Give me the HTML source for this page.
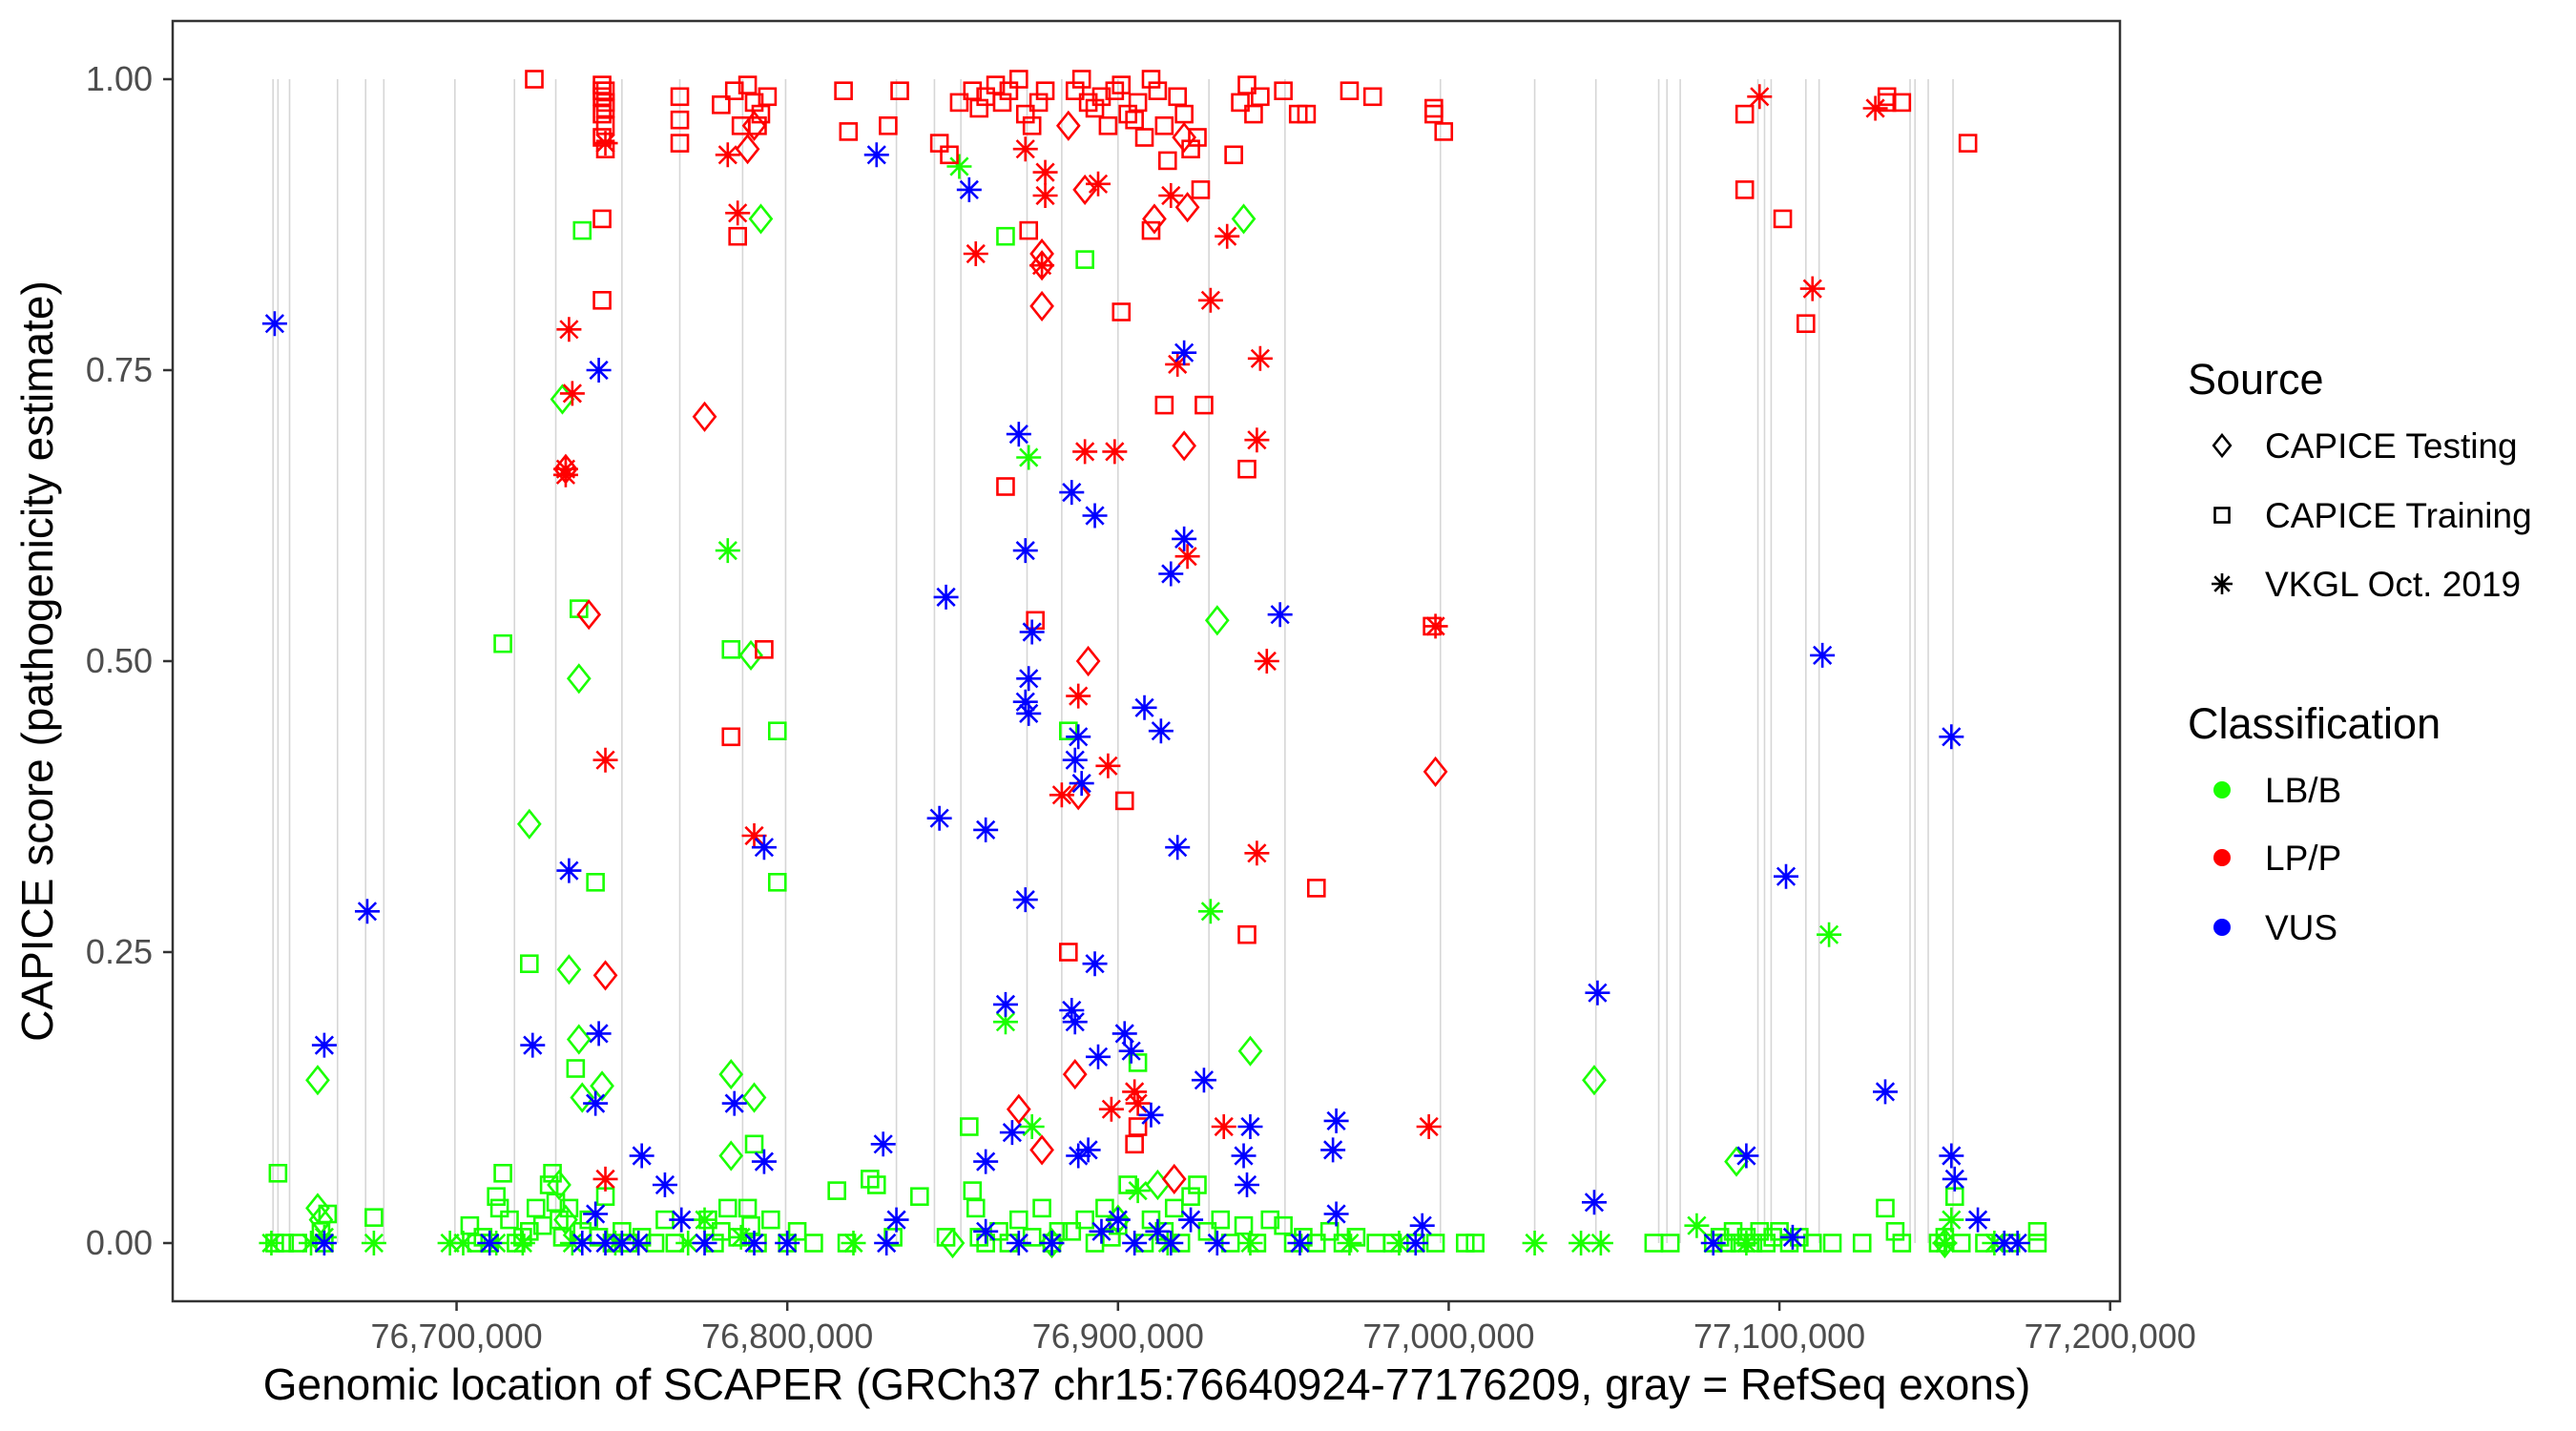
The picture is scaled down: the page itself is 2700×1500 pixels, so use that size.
<!DOCTYPE html>
<html><head><meta charset="utf-8"><title>SCAPER CAPICE scores</title>
<style>
html,body{margin:0;padding:0;background:#fff;}
svg{display:block;font-family:"Liberation Sans",Arial,sans-serif;}
</style></head>
<body>
<svg id="chart" width="2700" height="1500" viewBox="0 0 2700 1500" xmlns="http://www.w3.org/2000/svg">
<rect x="0" y="0" width="2700" height="1500" fill="#fff"/>
<g id="exons"></g>
<g id="points"></g>
<rect x="181" y="22" width="2041" height="1342" fill="none" stroke="#333" stroke-width="2.5"/>
<g id="xaxis"></g>
<g id="yaxis"></g>
<text x="1202" y="1467" font-size="46" text-anchor="middle" fill="#000">Genomic location of SCAPER (GRCh37 chr15:76640924-77176209, gray = RefSeq exons)</text>
<text transform="translate(55,693) rotate(-90)" font-size="46" text-anchor="middle" fill="#000">CAPICE score (pathogenicity estimate)</text>
<g id="legend"></g>
</svg>
<script>
// ---- data (positions in kb, scores 0..1) ----
const exonPositions = [76644.5,76646,76649.5,76664,76672.5,76678,76699.5,76717.5,76730,76750,76767.5,76786.5,76799.5,76833,76844.5,76852.5,76872.5,76883,76900,76927.5,76950.5,76997.5,77026,77044.5,77063.5,77066,77070,77093.5,77095.5,77097.5,77108,77112,77139.5,77141,77145,77152.5];
const xTickValues = [76700,76800,76900,77000,77100,77200];
const xTickLabels = ["76,700,000","76,800,000","76,900,000","77,000,000","77,100,000","77,200,000"];
const yTickValues = [0,0.25,0.5,0.75,1];
const yTickLabels = ["0.00","0.25","0.50","0.75","1.00"];

const greenSquarePos = [76646,76645,76648,76652,76659,76661,76660,76675,76704,76706,76708,76710,76712,76713,76714,76714,76716,76718,76720,76722,76722,76724,76726,76728,76729,76730,76731,76732,76734,76736,76737,76738,76738,76740,76742,76743,76745,76747,76750,76752,76756,76760,76763,76766,76776,76778,76780,76782,76783,76785,76788,76789,76790,76791,76795,76797,76797,76800,76803,76808,76815,76818,76825,76827,76832,76840,76848,76855,76856,76857,76858,76860,76864,76866,76867,76870,76874,76877,76880,76882,76885,76886,76890,76890,76893,76896,76898,76900,76903,76906,76908,76910,76914,76917,76919,76922,76924,76927,76931,76934,76938,76942,76946,76950,76953,76956,76960,76964,76968,76972,76978,76983,76990,76996,77005,77008,77062,77067,77080,77082,77084,77086,77088,77090,77092,77094,77096,77098,77100,77103,77106,77110,77116,77125,77132,77135,77137,77148,77150,77153,77155,77162,77170,77178,77178];
const greenSquareScore = [0.06,0,0,0,0.01,0.025,0,0.022,0.015,0,0.005,0,0.04,0.03,0.06,0.515,0.02,0,0.005,0.24,0.01,0.03,0.015,0.05,0.06,0.035,0.02,0.005,0.03,0.15,0.545,0.87,0.01,0.02,0.31,0.005,0.04,0,0.01,0,0.005,0,0.02,0,0.02,0,0.01,0.03,0.51,0.005,0.03,0.015,0.085,0,0.02,0.44,0.31,0,0.01,0,0.045,0,0.055,0.05,0.005,0.04,0.005,0.1,0.045,0.03,0.005,0,0.01,0.865,0,0.02,0.005,0.03,0,0.01,0.44,0.01,0.845,0.02,0,0.03,0.005,0.015,0.05,0.155,0,0.02,0.01,0.03,0,0.04,0.05,0.01,0.02,0,0.015,0,0.02,0.015,0,0.005,0,0.01,0,0.005,0,0,0,0,0,0,0,0,0,0.005,0,0.01,0,0.005,0,0.01,0,0.005,0.01,0,0.005,0,0,0,0.03,0.01,0,0,0.005,0.04,0,0,0,0.01,0];
const greenStarPos = [76644,76656,76660,76675,76698,76702,76712,76720,76735,76748,76770,76775,76782,76786,76820,76852,76866,76873,76874,76880,76906,76915,76928,76940,76970,76985,77026,77040,77046,77075,77090,77115,77150,77152,77165];
const greenStarScore = [0,0,0.005,0,0,0,0,0,0,0,0,0.02,0.595,0.005,0,0.925,0.19,0.675,0.1,0,0.045,0,0.285,0,0,0,0,0,0,0.015,0,0.265,0,0.02,0];
const greenDiamondPos = [76658,76658,76659,76722,76732,76737,76734,76737,76738,76744,76731,76733,76792,76783,76789,76790,76783,76938,76930,76940,77044,77087,76912,76900,76850,76880,77150];
const greenDiamondScore = [0.14,0.03,0.02,0.36,0.725,0.485,0.235,0.175,0.125,0.135,0.05,0.02,0.88,0.145,0.505,0.125,0.075,0.88,0.535,0.165,0.14,0.07,0.05,0.02,0,0,0];

const redSquarePos = [76723.5,76744,76744,76744,76745,76745,76744,76745,76744,76745,76744,76744,76745,76767.5,76767.5,76767.5,76780,76784,76786,76788,76790,76792,76794,76791,76785,76783,76793,76817,76818.5,76830.5,76834,76846,76849,76852,76856,76858,76860,76863,76865,76867,76870,76872,76874,76876,76878,76866,76875,76873,76887,76889,76891,76893,76895,76897,76899,76901,76903,76905,76901,76902,76885,76906,76908,76910,76912,76914,76915,76918,76920,76922,76924,76910,76914,76926,76925,76935,76937,76939,76941,76943,76939,76939,76954.5,76950,76957,76960,76970,76977,76995.5,76995.5,76998.5,76995,77089.5,77089.5,77101,77108,77132.5,77132.5,77137,77157,76906,76905];
const redSquareScore = [1.0,0.995,0.99,0.985,0.98,0.975,0.97,0.96,0.95,0.94,0.88,0.81,0.99,0.985,0.965,0.945,0.978,0.99,0.96,0.995,0.98,0.97,0.985,0.96,0.865,0.435,0.51,0.99,0.955,0.96,0.99,0.945,0.935,0.98,0.99,0.975,0.985,0.995,0.98,0.99,1.0,0.97,0.96,0.98,0.99,0.65,0.535,0.87,0.99,1.0,0.98,0.975,0.985,0.96,0.99,0.995,0.97,0.965,0.8,0.38,0.25,0.98,0.95,1.0,0.99,0.96,0.93,0.985,0.97,0.94,0.95,0.87,0.72,0.72,0.905,0.935,0.98,0.995,0.97,0.985,0.665,0.265,0.97,0.99,0.97,0.305,0.99,0.985,0.975,0.97,0.955,0.53,0.97,0.905,0.88,0.79,0.985,0.98,0.98,0.945,0.1,0.085];
const redStarPos = [76734,76735,76733,76733,76745,76745,76745,76782,76785,76790,76857,76872,76878,76878,76877,76883,76890,76899,76894,76897,76888,76916,76918,76921,76928,76933,76943,76942,76942,76945,76932,76905,76906,76898,76996,76994,77094,77110,77129];
const redStarScore = [0.785,0.73,0.665,0.66,0.945,0.415,0.055,0.935,0.885,0.35,0.85,0.94,0.92,0.9,0.84,0.385,0.68,0.68,0.91,0.41,0.47,0.9,0.755,0.59,0.81,0.865,0.76,0.69,0.335,0.5,0.1,0.13,0.12,0.115,0.53,0.1,0.985,0.82,0.975];
const redDiamondPos = [76733,76740,76745,76775,76788,76790,76877,76877,76877,76885,76890,76891,76888,76887,76870,76911,76921,76920,76920,76917,76996,76877];
const redDiamondScore = [0.665,0.54,0.23,0.71,0.94,0.96,0.85,0.84,0.805,0.96,0.905,0.5,0.385,0.145,0.115,0.88,0.89,0.95,0.685,0.055,0.405,0.08];

const blueStarPos = [76645,76660,76673,76723,76734,76743,76743,76742,76742,76756,76763,76768,76784,76793,76793,76827,76829,76833,76846,76848,76855,76860,76860,76866,76870,76872,76874,76873,76872,76873,76872,76868,76886,76888,76887,76889,76886,76887,76888,76893,76893,76894,76891,76908,76913,76916,76920,76920,76918,76902,76904,76910,76926,76940,76938,76939,76949,76966,76965,76966,76992,77045,77044,77090,77102,77113,77132,77152,77152,77153,77160,76660,76710,76738,76745,76750,76755,76775,76790,76800,76830,76860,76870,76880,76895,76900,76905,76912,76916,76922,76930,76955,76990,77080,77104,77168,77172];
const blueStarScore = [0.79,0.17,0.285,0.17,0.32,0.75,0.18,0.12,0.025,0.075,0.05,0.02,0.12,0.34,0.07,0.935,0.085,0.02,0.365,0.555,0.905,0.355,0.07,0.205,0.695,0.595,0.525,0.485,0.465,0.455,0.295,0.095,0.645,0.435,0.415,0.395,0.2,0.19,0.075,0.625,0.24,0.16,0.08,0.46,0.44,0.575,0.605,0.765,0.34,0.18,0.165,0.11,0.14,0.1,0.075,0.05,0.54,0.105,0.08,0.025,0.015,0.215,0.035,0.075,0.315,0.505,0.13,0.435,0.075,0.055,0.02,0,0,0,0,0,0,0,0,0,0,0.01,0,0,0.01,0.02,0,0.01,0,0.02,0,0,0,0,0.005,0,0];

// ---- scales ----
const X0 = 181, X1 = 2222, Y0 = 1364, Y1 = 22;
const xMin = 76614.16, xMax = 77202.97, yMin = -0.05, yMax = 1.05;
function xScale(v){ return X0 + (v - xMin) / (xMax - xMin) * (X1 - X0); }
function yScale(v){ return Y0 - (v - yMin) / (yMax - yMin) * (Y0 - Y1); }
const NS = "http://www.w3.org/2000/svg";
function mk(tag, attrs, parent){
  const e = document.createElementNS(NS, tag);
  for (const k in attrs) e.setAttribute(k, attrs[k]);
  parent.appendChild(e); return e;
}
const GREEN = "#1aff00", RED = "#ff0000", BLUE = "#0000ff";

const exG = document.getElementById("exons");
exonPositions.forEach(p => {
  const l = mk("line", {x1: xScale(p), x2: xScale(p), y1: yScale(0), y2: yScale(1), stroke: "#d6d6d6", "stroke-width": 1.6}, exG);
  
  
});

function drawSquare(g, cx, cy, col, s){
  return mk("rect", {x: cx - s/2, y: cy - s/2, width: s, height: s, fill: "none", stroke: col, "stroke-width": 2.6}, g);
}
function drawDiamond(g, cx, cy, col, s){
  return mk("path", {d: `M${cx} ${cy - s}L${cx + s*0.8} ${cy}L${cx} ${cy + s}L${cx - s*0.8} ${cy}Z`, fill: "none", stroke: col, "stroke-width": 2.6}, g);
}
function drawStar(g, cx, cy, col, r){
  const d = r * 0.707;
  return mk("path", {d: `M${cx} ${cy - r}V${cy + r}M${cx - r} ${cy}H${cx + r}M${cx - d} ${cy - d}L${cx + d} ${cy + d}M${cx - d} ${cy + d}L${cx + d} ${cy - d}`, fill: "none", stroke: col, "stroke-width": 2.6}, g);
}
const ptG = document.getElementById("points");
function series(pos, score, kind, col, name){
  const g = mk("g", {}, ptG);
  
  
  pos.forEach((p, i) => {
    const cx = xScale(p), cy = yScale(score[i]);
    let e;
    if (kind === "square") e = drawSquare(g, cx, cy, col, 17);
    else if (kind === "diamond") e = drawDiamond(g, cx, cy, col, 14);
    else e = drawStar(g, cx, cy, col, 13);
    
    
  });
}
series(greenSquarePos, greenSquareScore, "square", GREEN, "series-lbb-training");
series(greenStarPos, greenStarScore, "star", GREEN, "series-lbb-vkgl");
series(greenDiamondPos, greenDiamondScore, "diamond", GREEN, "series-lbb-testing");
series(redSquarePos, redSquareScore, "square", RED, "series-lpp-training");
series(redStarPos, redStarScore, "star", RED, "series-lpp-vkgl");
series(redDiamondPos, redDiamondScore, "diamond", RED, "series-lpp-testing");
series(blueStarPos, blueStarScore, "star", BLUE, "series-vus-vkgl");

const xg = document.getElementById("xaxis");
xTickValues.forEach((v, i) => {
  const x = xScale(v);
  const t = mk("line", {x1: x, x2: x, y1: Y0, y2: Y0 + 10, stroke: "#333", "stroke-width": 2.5}, xg);
  
  
  const lb = mk("text", {x: x, y: 1413, "font-size": 36, "text-anchor": "middle", fill: "#4d4d4d"}, xg);
  lb.textContent = xTickLabels[i];
  
  
});
const yg = document.getElementById("yaxis");
yTickValues.forEach((v, i) => {
  const y = yScale(v);
  const t = mk("line", {x1: X0 - 10, x2: X0, y1: y, y2: y, stroke: "#333", "stroke-width": 2.5}, yg);
  
  
  const lb = mk("text", {x: 160, y: y + 12, "font-size": 36, "text-anchor": "end", fill: "#4d4d4d"}, yg);
  lb.textContent = yTickLabels[i];
  
  
});

const lg = document.getElementById("legend");
function ltext(x, y, s, size, name){
  const t = mk("text", {x: x, y: y, "font-size": size, fill: "#000"}, lg);
  t.textContent = s;
  
  
}
ltext(2293, 413, "Source", 45, "legend-title-source");
const srcLabels = ["CAPICE Testing", "CAPICE Training", "VKGL Oct. 2019"];
const srcY = [467, 540, 612];
srcLabels.forEach((s, i) => {
  let e;
  if (i === 0) e = drawDiamond(lg, 2329, srcY[i], "#000", 11);
  else if (i === 1) e = drawSquare(lg, 2329, srcY[i], "#000", 15);
  else e = drawStar(lg, 2329, srcY[i], "#000", 11);
  
  
  ltext(2374, srcY[i] + 13, s, 37, "legend-entry");
});
ltext(2293, 774, "Classification", 45, "legend-title-classification");
const clsLabels = ["LB/B", "LP/P", "VUS"];
const clsColors = [GREEN, RED, BLUE];
const clsY = [828, 899, 972];
clsLabels.forEach((s, i) => {
  const c = mk("circle", {cx: 2329, cy: clsY[i], r: 9, fill: clsColors[i]}, lg);
  
  
  ltext(2374, clsY[i] + 13, s, 37, "legend-entry");
});
</script>
</body></html>
